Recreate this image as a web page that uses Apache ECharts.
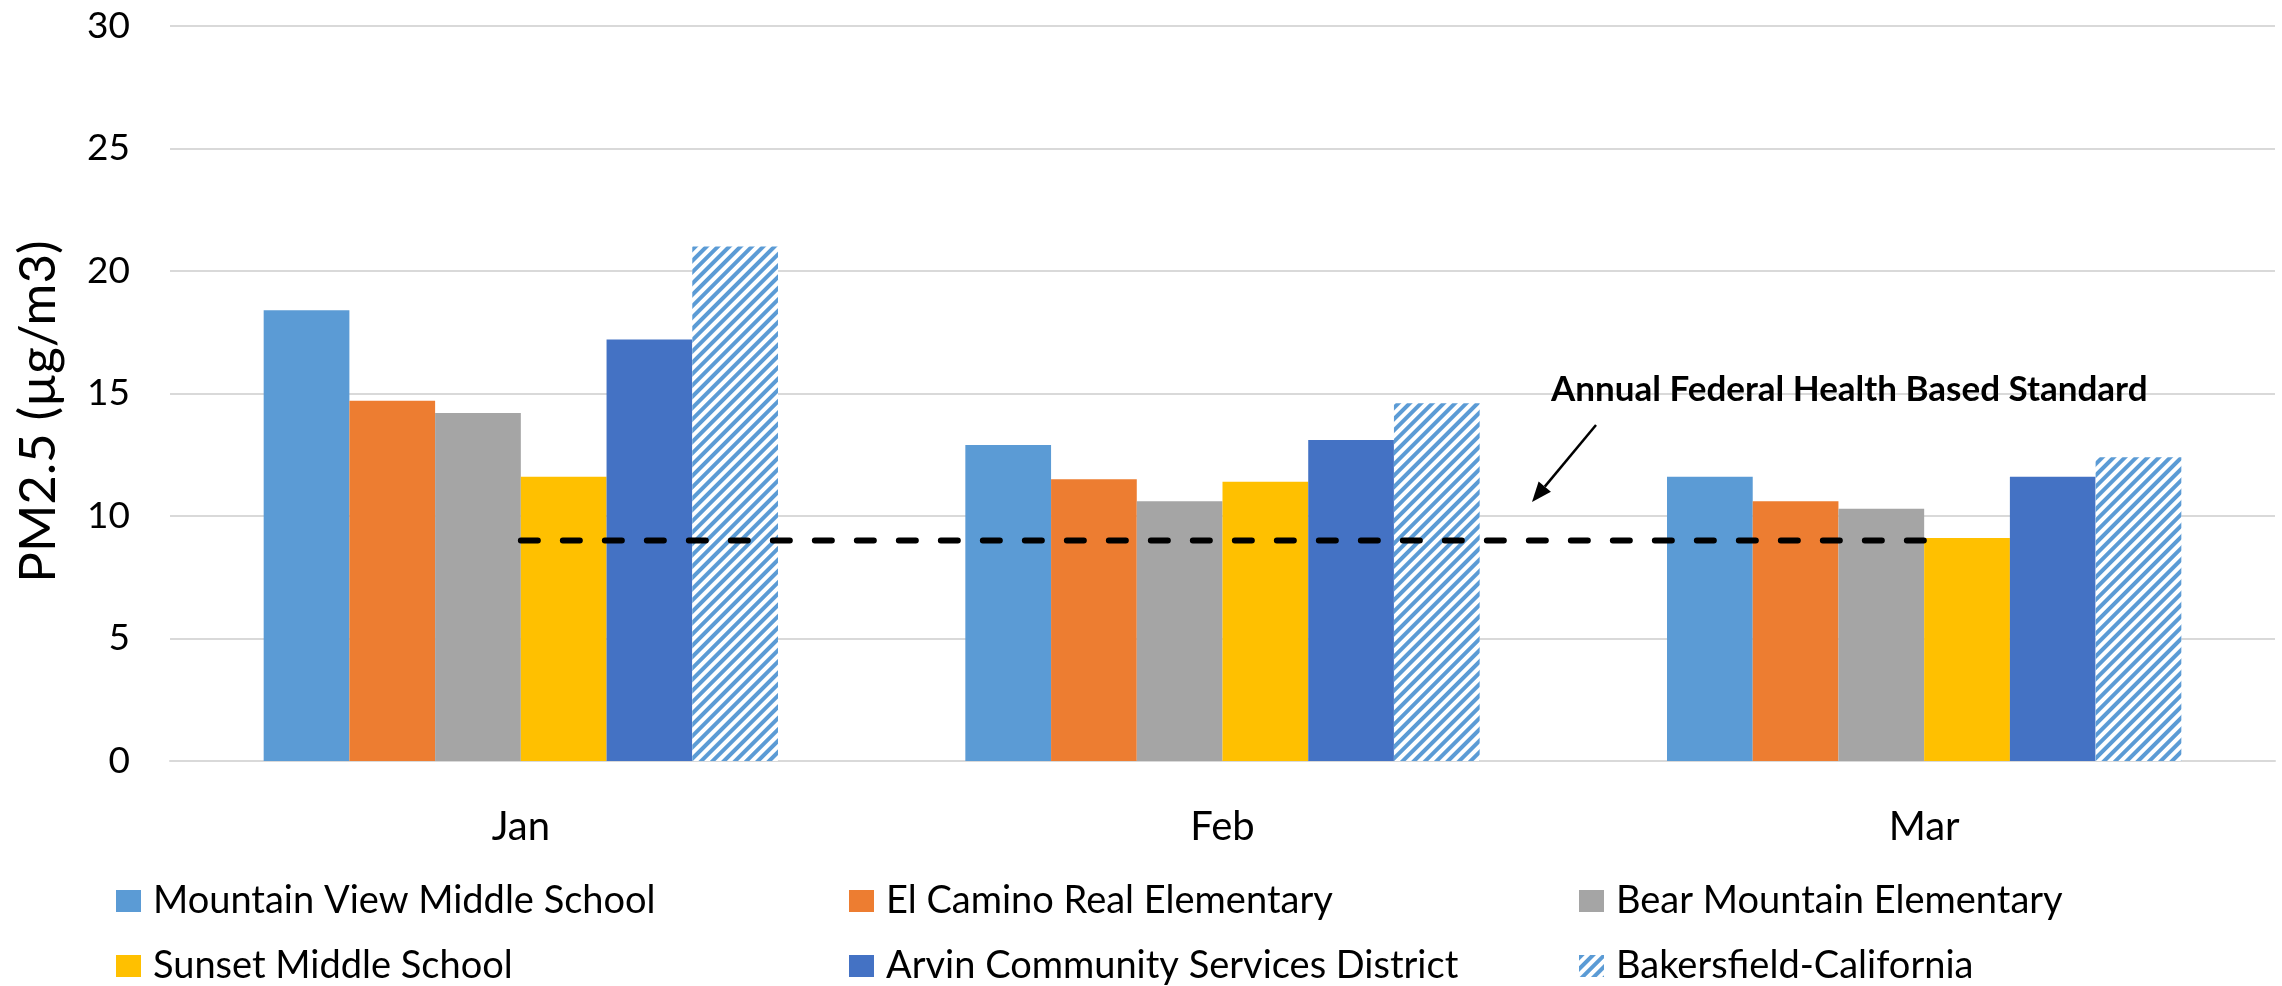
<!DOCTYPE html>
<html>
<head>
<meta charset="utf-8">
<script src="https://cdn.jsdelivr.net/npm/echarts@6/dist/echarts.min.js"></script>
<style>
	html, body { margin: 0; padding: 0; background: #fff; }
	#chart { width: 2282px; height: 986px; }
</style>
</head>
<body>
<div id="chart"></div>
<script>
	var months = ['Jan', 'Feb', 'Mar'];
	var yTicks = [0, 5, 10, 15, 20, 25, 30];
	var mountainView = [18.4, 12.9, 11.6];
	var elCamino = [14.7, 11.5, 10.6];
	var bearMountain = [14.2, 10.6, 10.3];
	var sunset = [11.6, 11.4, 9.1];
	var arvin = [17.2, 13.1, 11.6];
	var bakersfield = [21.0, 14.6, 12.4];
	var federalStandard = [9, 9, 9];
	var standardLabel = 'Annual Federal Health Based Standard';

	var chart = echarts.init(document.getElementById('chart'));
	var font = 'Lato, "Open Sans", sans-serif';

	function bar(name, data, color) {
		return {
			name: name,
			type: 'bar',
			data: data,
			barGap: '0%',
			barCategoryGap: '26.7%',
			itemStyle: { color: color }
		};
	}

	var hatched = bar('Bakersfield-California', bakersfield, '#ffffff');
	hatched.itemStyle.decal = {
		symbol: 'rect',
		symbolSize: 1,
		color: '#5B9BD5',
		dashArrayX: [1, 0],
		dashArrayY: [3.5, 3.5],
		rotation: -Math.PI / 4
	};

	// one legend per item, so the 3 x 2 layout sits where it should
	function legend(left, top, name) {
		return {
			left: left,
			top: top,
			padding: 0,
			itemWidth: 25,
			itemHeight: 22,
			icon: 'rect',
			data: [name],
			textStyle: {
				fontFamily: font,
				fontSize: 38,
				color: '#000',
				lineHeight: 22,
				padding: [0, 0, 0, 7]
			}
		};
	}

	// arrow of the annotation
	var from = [1596, 425], to = [1532, 502];
	var dx = to[0] - from[0], dy = to[1] - from[1];
	var len = Math.sqrt(dx * dx + dy * dy);
	var ux = dx / len, uy = dy / len;
	var base = [to[0] - 20 * ux, to[1] - 20 * uy];

	var option = {
		animation: false,
		grid: {
			left: 170,
			right: 7,
			top: 26,
			bottom: 225
		},
		legend: [
			legend(116, 882, 'Mountain View Middle School'),
			legend(849, 882, 'El Camino Real Elementary'),
			legend(1579, 882, 'Bear Mountain Elementary'),
			legend(116, 947, 'Sunset Middle School'),
			legend(849, 947, 'Arvin Community Services District'),
			legend(1579, 947, 'Bakersfield-California')
		],
		xAxis: {
			type: 'category',
			data: months,
			axisTick: { show: false },
			axisLine: { lineStyle: { color: '#D9D9D9', width: 2 } },
			axisLabel: {
				fontFamily: font,
				fontSize: 40,
				color: '#000',
				margin: 46
			}
		},
		yAxis: {
			type: 'value',
			min: yTicks[0],
			max: yTicks[yTicks.length - 1],
			interval: 5,
			name: 'PM2.5 (µg/m3)',
			nameLocation: 'middle',
			nameGap: 106,
			nameTextStyle: {
				fontFamily: font,
				fontSize: 51,
				color: '#000',
				padding: [0, 36, 0, 0]
			},
			axisLine: { show: false },
			axisTick: { show: false },
			splitLine: { lineStyle: { color: '#D9D9D9', width: 2 } },
			axisLabel: {
				fontFamily: font,
				fontSize: 37,
				color: '#000',
				margin: 40
			}
		},
		series: [
			bar('Mountain View Middle School', mountainView, '#5B9BD5'),
			bar('El Camino Real Elementary', elCamino, '#ED7D31'),
			bar('Bear Mountain Elementary', bearMountain, '#A5A5A5'),
			bar('Sunset Middle School', sunset, '#FFC000'),
			bar('Arvin Community Services District', arvin, '#4472C4'),
			hatched,
			{
				name: 'Federal Standard',
				type: 'line',
				data: federalStandard,
				symbol: 'none',
				z: 5,
				lineStyle: {
					color: '#000',
					width: 6,
					type: [17, 25],
					cap: 'round'
				}
			}
		],
		graphic: [
			{
				type: 'text',
				left: 1551,
				top: 372,
				z: 100,
				style: {
					text: standardLabel,
					fontFamily: font,
					fontWeight: 'bold',
					fontSize: 35,
					fill: '#000'
				}
			},
			{
				type: 'line',
				z: 100,
				shape: { x1: from[0], y1: from[1], x2: base[0], y2: base[1] },
				style: { stroke: '#000', lineWidth: 2.5 }
			},
			{
				type: 'polygon',
				z: 100,
				shape: {
					points: [
						to,
						[base[0] + 8 * uy, base[1] - 8 * ux],
						[base[0] - 8 * uy, base[1] + 8 * ux]
					]
				},
				style: { fill: '#000' }
			}
		]
	};
	chart.setOption(option);
</script>
</body>
</html>
